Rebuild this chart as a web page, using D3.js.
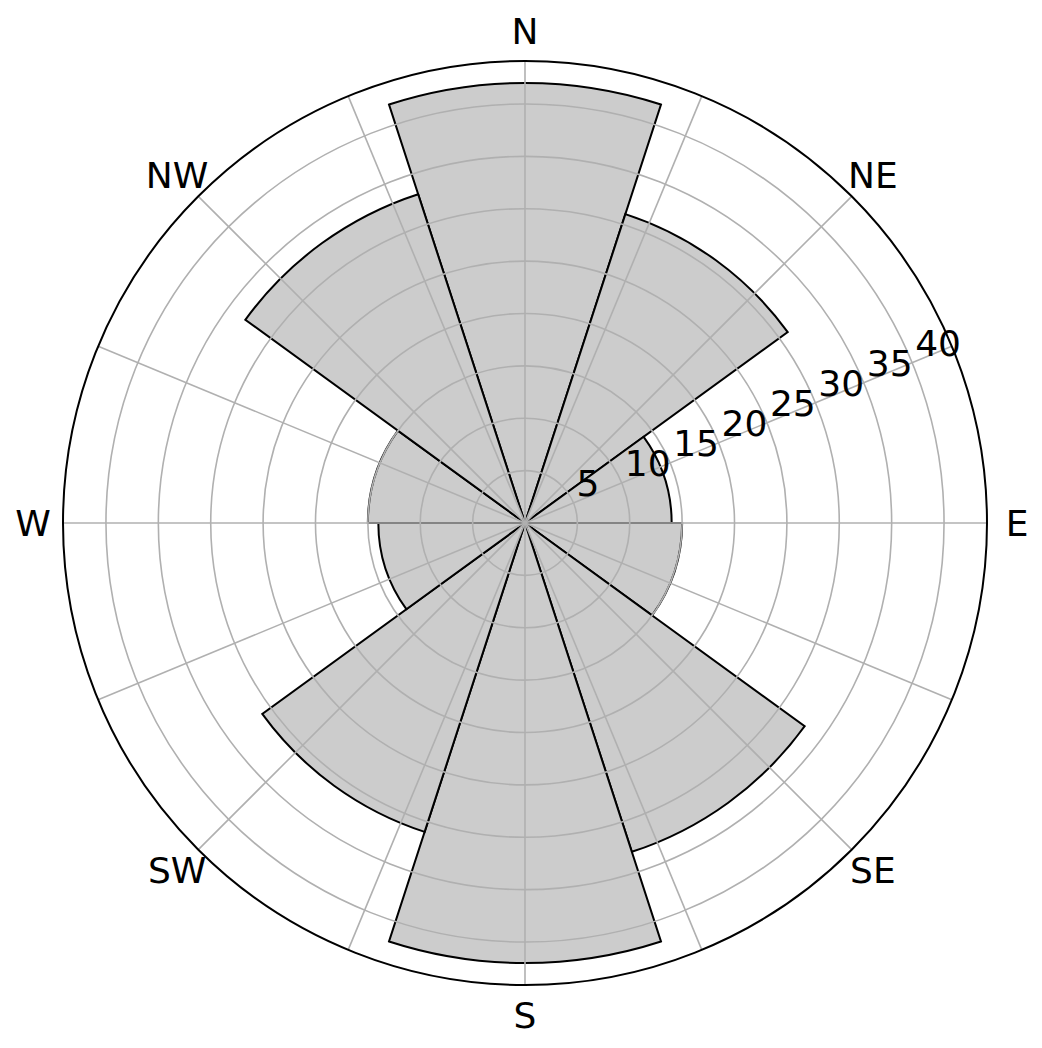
<!DOCTYPE html>
<html>
<head>
<meta charset="utf-8">
<script src="https://cdn.jsdelivr.net/npm/d3@7"></script>
<style>
  html, body { margin: 0; padding: 0; background: #ffffff; }
  svg { display: block; }
  text { font-family: "DejaVu Sans", sans-serif; fill: #000; }
</style>
</head>
<body>
<script>
// ---- data ----
const barAngles = [0, 36, 72, 108, 144, 180, 216, 252, 288, 324]; // bar centres, degrees clockwise from N
const barValues = [42, 31, 14, 15, 33, 42, 31, 14, 15, 33];
const compassLabels = ["N", "NE", "E", "SE", "S", "SW", "W", "NW"];
const compassAngles = [0, 45, 90, 135, 180, 225, 270, 315];
const gridAngles = [0, 22.5, 45, 67.5, 90, 112.5, 135, 157.5, 180, 202.5, 225, 247.5, 270, 292.5, 315, 337.5];
const radialTicks = [5, 10, 15, 20, 25, 30, 35, 40];
const rMax = 44.1;
const barWidthDeg = 36;
const rLabelAngleDeg = 67.5; // clockwise from N (22.5° above E)

// ---- layout ----
const W = 1042, H = 1048;
const cx = 525, cy = 523, R = 462;
const FS = 36;

const svg = d3.select("body").append("svg").attr("width", W).attr("height", H);
const g = svg.append("g").attr("transform", `translate(${cx},${cy})`);

const r = d3.scaleLinear().domain([0, rMax]).range([0, R]);
const rad = d => d * Math.PI / 180;

// bars
const arc = d3.arc()
  .innerRadius(0)
  .outerRadius(d => r(d.v))
  .startAngle(d => rad(d.a - barWidthDeg / 2))
  .endAngle(d => rad(d.a + barWidthDeg / 2));

const bars = barAngles.map((a, i) => ({ a, v: barValues[i] }));
g.selectAll("path.bar").data(bars).enter().append("path")
  .attr("class", "bar")
  .attr("d", arc)
  .attr("fill", "#cccccc")
  .attr("stroke", "#000")
  .attr("stroke-width", 2)
  .attr("stroke-linejoin", "miter");

// grid circles
g.selectAll("circle.grid").data(radialTicks).enter().append("circle")
  .attr("r", d => r(d))
  .attr("fill", "none")
  .attr("stroke", "#b0b0b0")
  .attr("stroke-width", 1.6);

// grid spokes
g.selectAll("line.spoke").data(gridAngles).enter().append("line")
  .attr("x1", 0).attr("y1", 0)
  .attr("x2", d => R * Math.sin(rad(d)))
  .attr("y2", d => -R * Math.cos(rad(d)))
  .attr("stroke", "#b0b0b0")
  .attr("stroke-width", 1.6);

// outer circle
g.append("circle").attr("r", R)
  .attr("fill", "none").attr("stroke", "#000").attr("stroke-width", 2);

// compass labels
const labR = R + 30;
g.selectAll("text.compass").data(compassLabels).enter().append("text")
  .attr("x", (d, i) => labR * Math.sin(rad(compassAngles[i])))
  .attr("y", (d, i) => -labR * Math.cos(rad(compassAngles[i])))
  .attr("text-anchor", "middle")
  .attr("dominant-baseline", "central")
  .style("font-size", FS + "px")
  .text(d => d);

// radial tick labels
g.selectAll("text.rtick").data(radialTicks).enter().append("text")
  .attr("x", d => r(d) * Math.sin(rad(rLabelAngleDeg)) + 3)
  .attr("y", d => -r(d) * Math.cos(rad(rLabelAngleDeg)) - 7)
  .attr("text-anchor", "start")
  .style("font-size", FS + "px")
  .text(d => d);
</script>
</body>
</html>
